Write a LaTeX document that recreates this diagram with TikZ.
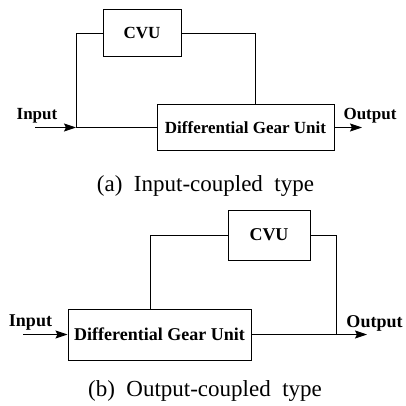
\documentclass[tikz,border=0pt]{standalone}
\usepackage{fontspec}
\setmainfont{Liberation Serif}
\usetikzlibrary{arrows.meta}
\tikzset{
  box/.style={draw, line width=1pt, inner sep=0pt},
  wire/.style={line width=1pt},
  arr/.style={line width=1pt, -{Stealth[length=12pt,width=8pt,inset=2pt]}},
  lblA/.style={font=\fontsize{17}{19}\selectfont\bfseries, inner sep=0pt, anchor=base},
  lblB/.style={font=\fontsize{18}{20}\selectfont\bfseries, inner sep=0pt, anchor=base},
  captext/.style={font=\fontsize{23}{26}\selectfont, inner sep=0pt, anchor=base}
}
\begin{document}
\begin{tikzpicture}[x=1pt,y=-1pt]
\useasboundingbox (0,0) rectangle (406,406);
% (a) Input-coupled type
\node[box, minimum width=78pt, minimum height=47pt, lblA, anchor=center] (cvua) at (142,33.5) {CVU};
\node[box, minimum width=177pt, minimum height=45pt, lblA, anchor=center] (dgua) at (245.5,127.5) {Differential Gear Unit};
\coordinate (ina) at (35,127.5);
\coordinate (ja) at (76,127.5);
\coordinate (tapa) at (255,0);
\coordinate (outa) at (362,127.5);
\draw[arr] (ina) -- (ja);
\draw[wire] (ja) -- (dgua.west);
\draw[wire] (ja) |- (cvua.west);
\draw[wire] (cvua.east) -| (dgua.north -| tapa);
\draw[arr] (dgua.east) -- (outa);
\node[lblA] (inlabela) at (37,120) {Input};
\node[lblA] (outlabela) at (370,120) {Output};
\node[captext] (capa) at (205.5,191) {(a)\hspace{0.5em}Input-coupled\hspace{0.5em}type};
% (b) Output-coupled type
\node[box, minimum width=82pt, minimum height=50pt, lblB, anchor=center] (cvub) at (269,235) {CVU};
\node[box, minimum width=183pt, minimum height=51pt, lblB, anchor=center] (dgub) at (159.5,334.5) {Differential Gear Unit};
\coordinate (inb) at (23,334.5);
\coordinate (tapb) at (150,0);
\coordinate (jb) at (336,334.5);
\coordinate (outb) at (367,334.5);
\draw[arr] (inb) -- (dgub.west);
\draw[wire] (dgub.north -| tapb) |- (cvub.west);
\draw[wire] (cvub.east) -| (jb);
\draw[arr] (dgub.east) -- (outb);
\node[lblB] (inlabelb) at (30.5,326.5) {Input};
\node[lblB] (outlabelb) at (374.5,327) {Output};
\node[captext] (capb) at (205,396) {(b)\hspace{0.5em}Output-coupled\hspace{0.5em}type};
\end{tikzpicture}
\end{document}
